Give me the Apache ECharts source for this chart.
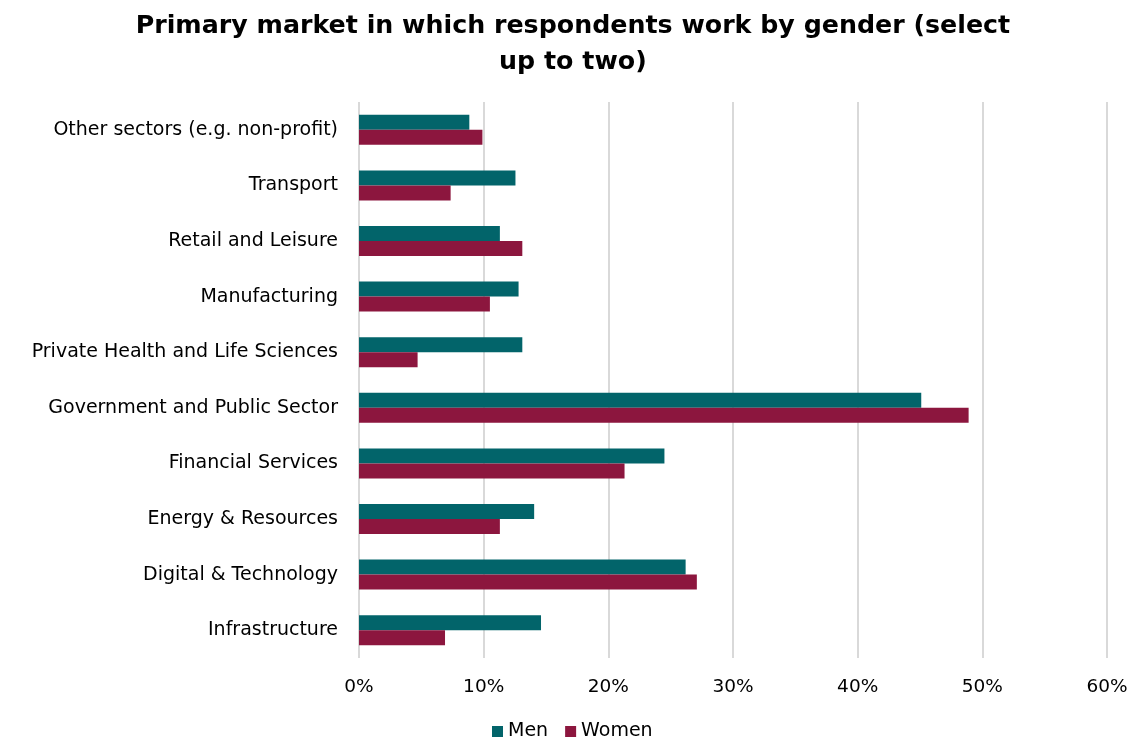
<!DOCTYPE html>
<html>
<head>
<meta charset="utf-8">
<script src="https://cdn.jsdelivr.net/npm/echarts@6/dist/echarts.min.js"></script>
<style>
  html, body { margin: 0; padding: 0; background: #fff; }
  #chart { width: 1137px; height: 737px; }
</style>
</head>
<body>
<div id="chart"></div>
<script>
// Sectors, listed top to bottom
const categories = [
  'Other sectors (e.g. non-profit)',
  'Transport',
  'Retail and Leisure',
  'Manufacturing',
  'Private Health and Life Sciences',
  'Government and Public Sector',
  'Financial Services',
  'Energy & Resources',
  'Digital & Technology',
  'Infrastructure'
];
// Share of respondents (%)
const men   = [8.85, 12.55, 11.3, 12.8, 13.1, 45.1, 24.5, 14.05, 26.2, 14.6];
const women = [9.9, 7.35, 13.1, 10.5, 4.7, 48.9, 21.3, 11.3, 27.1, 6.9];
const xTicks = [0, 10, 20, 30, 40, 50, 60];

const FONT = '"DejaVu Sans", sans-serif';
const chart = echarts.init(document.getElementById('chart'));
chart.setOption({
  backgroundColor: '#ffffff',
  animation: false,
  title: {
    text: ' Primary market in which respondents work by gender (select\n up to two)',
    left: 'center',
    top: 3,
    textStyle: { fontFamily: FONT, fontWeight: 'bold', fontSize: 25.3, lineHeight: 36, color: '#000' }
  },
  legend: {
    top: 717,
    left: 487,
    itemWidth: 11,
    itemHeight: 11,
    itemGap: 17,
    icon: 'rect',
    textStyle: { fontFamily: FONT, fontSize: 19, color: '#000' },
    data: ['Men', 'Women']
  },
  grid: { left: 359, right: 30, top: 102, bottom: 79, containLabel: false },
  xAxis: {
    type: 'value',
    min: xTicks[0],
    max: xTicks[xTicks.length - 1],
    interval: 10,
    axisLine: { show: false },
    axisTick: { show: false },
    splitLine: { lineStyle: { color: '#d9d9d9', width: 2 } },
    axisLabel: {
      formatter: v => v + '%',
      fontFamily: FONT, fontSize: 18.5, color: '#000', margin: 20
    }
  },
  yAxis: {
    type: 'category',
    inverse: true,
    data: categories,
    axisLine: { show: false },
    axisTick: { show: false },
    axisLabel: { fontFamily: FONT, fontSize: 19, color: '#000', margin: 21 }
  },
  series: [
    {
      name: 'Men', type: 'bar', data: men,
      itemStyle: { color: '#02646A' },
      barGap: '0%', barCategoryGap: '46%'
    },
    {
      name: 'Women', type: 'bar', data: women,
      itemStyle: { color: '#8C163E' },
      barGap: '0%', barCategoryGap: '46%'
    }
  ]
});
</script>
</body>
</html>
